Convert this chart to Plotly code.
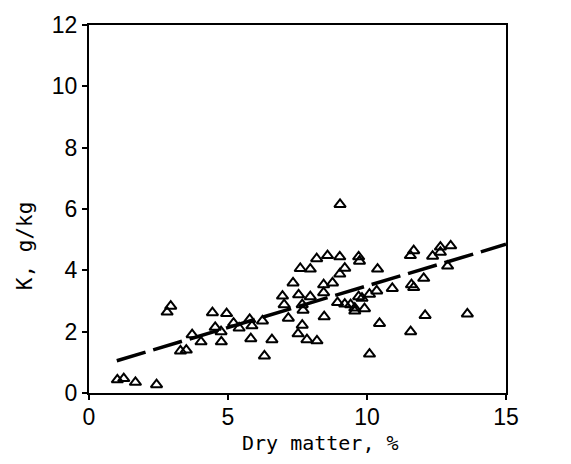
import plotly.graph_objects as go

dry_matter = [1.02, 1.25, 1.67, 2.43, 2.81, 2.94, 3.29, 3.50, 3.71, 4.03,
              4.44, 4.54, 4.75, 4.76, 4.95, 5.20, 5.40, 5.78, 5.86, 5.82,
              6.24, 6.31, 6.58, 6.96, 7.02, 7.17, 7.34, 7.54, 7.60, 7.67,
              7.70, 7.67, 7.52, 7.84, 7.96, 7.96, 8.20, 8.19, 8.58, 8.44,
              8.44, 8.46, 8.76, 8.94, 9.03, 9.02, 9.02, 9.20, 9.20, 9.41,
              9.56, 9.56, 9.70, 9.73, 9.70, 9.82, 9.91, 10.09, 10.09, 10.35,
              10.38, 10.45, 10.91, 11.56, 11.68, 11.60, 11.68, 11.57, 12.04, 12.09,
              12.36, 12.64, 12.64, 12.90, 13.01, 13.61]
k_content = [0.43, 0.47, 0.35, 0.27, 2.64, 2.83, 1.37, 1.40, 1.90, 1.67,
             2.62, 2.14, 2.00, 1.67, 2.59, 2.28, 2.12, 2.40, 2.19, 1.77,
             2.35, 1.21, 1.74, 3.16, 2.88, 2.44, 3.59, 3.20, 4.06, 2.88,
             2.70, 2.21, 1.93, 1.74, 4.04, 3.14, 1.70, 4.38, 4.48, 3.27,
             3.53, 2.49, 3.59, 2.95, 6.15, 4.44, 3.88, 4.07, 2.90, 2.88,
             2.77, 2.67, 4.44, 4.30, 3.14, 3.09, 2.75, 3.22, 1.27, 3.33,
             4.04, 2.27, 3.41, 4.48, 4.64, 3.53, 3.44, 2.00, 3.74, 2.53,
             4.46, 4.59, 4.76, 4.14, 4.80, 2.58]

# Regression line end points
fit_x = [1.0, 15.0]
fit_y = [1.05, 4.85]

x_ticks = [0, 5, 10, 15]
y_ticks = [0, 2, 4, 6, 8, 10, 12]

x_title = "Dry matter, %"
y_title = "K, g/kg"

fig = go.Figure()
fig.add_trace(go.Scatter(
    x=fit_x, y=fit_y, mode="lines",
    line=dict(color="black", width=3.5, dash="30px,8px"),
    showlegend=False, hoverinfo="skip"))
fig.add_trace(go.Scatter(
    x=dry_matter, y=k_content, mode="markers",
    marker=dict(symbol="triangle-up-open", size=10, color="black",
                line=dict(width=2, color="black")),
    showlegend=False))

axis_common = dict(showgrid=False, zeroline=False, showline=True,
                   linecolor="black", linewidth=2, mirror=True,
                   ticks="outside", ticklen=5, tickwidth=2, tickcolor="black",
                   tickfont=dict(family="Liberation Sans, Arial", size=23, color="black"))

fig.update_layout(
    width=571, height=464,
    margin=dict(l=89, r=65, t=13, b=71),
    paper_bgcolor="white", plot_bgcolor="white",
    xaxis=dict(range=[0, 15], tickvals=x_ticks, ticktext=[str(v) for v in x_ticks],
               ticklabelstandoff=-3, **axis_common),
    yaxis=dict(range=[0, 12], tickvals=y_ticks, ticktext=[str(v) for v in y_ticks],
               **axis_common),
    annotations=[
        dict(text=x_title, xref="paper", yref="paper", x=0.555, y=-0.137,
             xanchor="center", yanchor="middle", showarrow=False,
             font=dict(family="DejaVu Sans Mono, Liberation Mono", size=20, color="black")),
        dict(text=y_title, xref="paper", yref="paper", x=-0.155, y=0.40,
             xanchor="center", yanchor="middle", showarrow=False, textangle=-90,
             font=dict(family="DejaVu Sans Mono, Liberation Mono", size=21, color="black")),
    ],
)

fig.write_html("out.html")
